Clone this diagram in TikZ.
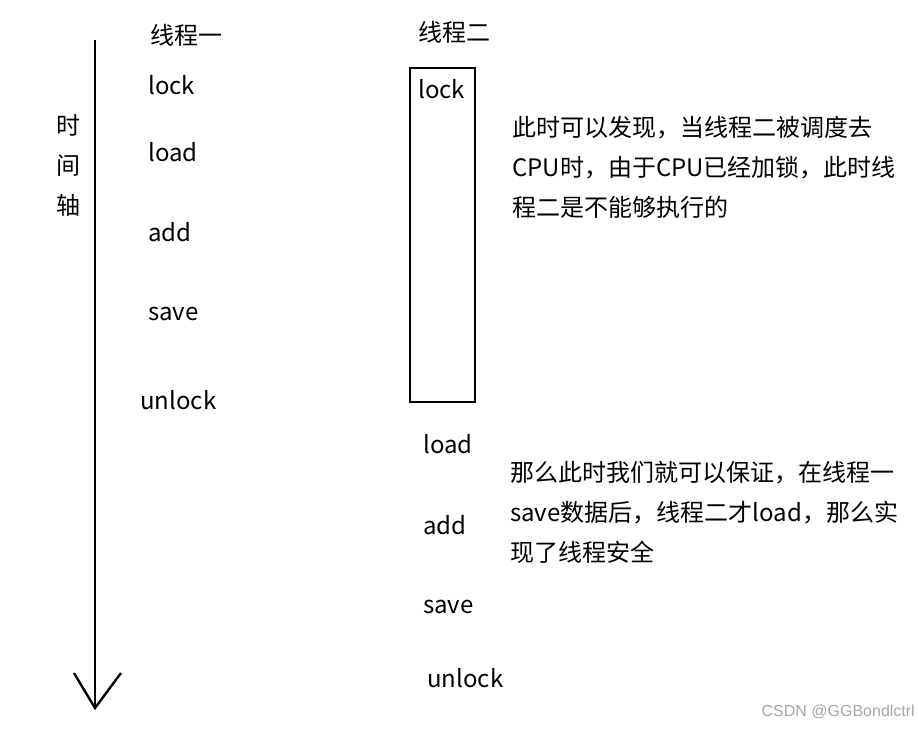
\documentclass[tikz,border=0pt]{standalone}
\usepackage{fontspec}
\setmainfont{Noto Sans CJK SC}
\newfontfamily\wmfont{Liberation Sans}
\usetikzlibrary{calc}
\tikzset{
    step label/.style={anchor=west,inner sep=0pt,font=\fontsize{24}{28}\selectfont},
    note/.style={anchor=north west,inner sep=0pt,align=left,font=\fontsize{24}{40}\selectfont},
}

\begin{document}
\begin{tikzpicture}[x=1pt,y=-1pt]
    \useasboundingbox (0,0) rectangle (918,728);

    % time axis
    \coordinate (Top) at (95,40);
    \coordinate (Tip) at (95,708);
    \coordinate (L) at (74,673);
    \coordinate (R) at (121,673);
    \draw[line width=2.6pt](Top)--(Tip);
    \draw[line width=2.4pt](L)--(Tip)--(R);

    \node[inner sep=0pt,align=center,font=\fontsize{24}{40}\selectfont] (axis) at (68,165){时\\间\\轴};

    % thread one
    \node[step label] (T1) at (150,35){线程一};
    \node[step label] (lockA) at (148,85){lock};
    \node[step label] (loadA) at (148,152){load};
    \node[step label] (addA) at (148,232){add};
    \node[step label] (saveA) at (148,314){save};
    \node[step label] (unlockA) at (140,400){unlock};

    % thread two
    \node[step label] (T2) at (418,32){线程二};
    \draw[line width=2.6pt] (410,68) rectangle (475,402);
    \node[step label] (lockB) at (418,89){lock};
    \node[step label] (loadB) at (423,444){load};
    \node[step label] (addB) at (423,525){add};
    \node[step label] (saveB) at (423,607){save};
    \node[step label] (unlockB) at (427,678){unlock};

    % notes
    \node[note] (noteA) at (512,116){此时可以发现，当线程二被调度去\\CPU时，由于CPU已经加锁，此时线\\程二是不能够执行的};
    \node[note] (noteB) at (510,461){那么此时我们就可以保证，在线程一\\save数据后，线程二才load，那么实\\现了线程安全};

    \node[anchor=east,inner sep=0pt,text=black!35,font=\wmfont\fontsize{16}{18}\selectfont] (wm) at (915,712){CSDN @GGBondlctrl};
\end{tikzpicture}
\end{document}
